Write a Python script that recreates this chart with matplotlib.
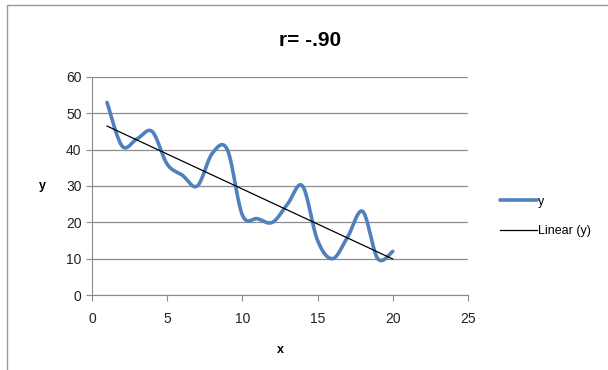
import numpy as np
import matplotlib.pyplot as plt
from matplotlib.patches import Rectangle

# данные
x_vals = [1, 2, 3, 4, 5, 6, 7, 8, 9, 10, 11, 12, 13, 14, 15, 16, 17, 18, 19, 20]
y_vals = [53, 41, 43, 45, 36, 33, 30, 39, 40, 22, 21, 20, 25, 30, 15, 10, 16, 23, 10, 12]
x_ticks = [0, 5, 10, 15, 20, 25]
y_ticks = [0, 10, 20, 30, 40, 50, 60]
title_text = "r= -.90"

blue = "#4F81BD"
grid_col = "#8C8C8C"


# сглаживание как в Excel (Catmull-Rom)
def smooth_line(xs, ys, steps=20):
    xs = np.asarray(xs, float)
    ys = np.asarray(ys, float)
    px = np.concatenate([[xs[0]], xs, [xs[-1]]])
    py = np.concatenate([[ys[0]], ys, [ys[-1]]])
    out_x, out_y = [], []
    t = np.linspace(0, 1, steps, endpoint=False)
    for i in range(1, len(px) - 2):
        for arr, out in ((px, out_x), (py, out_y)):
            p0, p1, p2, p3 = arr[i - 1], arr[i], arr[i + 1], arr[i + 2]
            c1 = p1 + (p2 - p0) / 6
            c2 = p2 - (p3 - p1) / 6
            out.extend((1 - t) ** 3 * p1 + 3 * (1 - t) ** 2 * t * c1
                       + 3 * (1 - t) * t ** 2 * c2 + t ** 3 * p2)
    out_x.append(xs[-1])
    out_y.append(ys[-1])
    return out_x, out_y


plt.rcParams['font.family'] = ['Liberation Sans', 'DejaVu Sans']

fig = plt.figure(figsize=(6.08, 3.70), dpi=100)
ax = fig.add_axes([0.1513, 0.2027, 0.6184, 0.5892])

sx, sy = smooth_line(x_vals, y_vals)
ax.plot(sx, sy, color=blue, lw=2.6, solid_capstyle='round', label='y', zorder=3)

k, b = np.polyfit(x_vals, y_vals, 1)
xt = np.array([x_vals[0], x_vals[-1]])
ax.plot(xt, k * xt + b, color='black', lw=0.9, label='Linear (y)', zorder=4)

ax.set_xlim(0, 25)
ax.set_ylim(0, 60)
ax.set_xticks(x_ticks)
ax.set_yticks(y_ticks)
ax.yaxis.grid(True, color=grid_col, lw=0.9)
ax.set_axisbelow(True)
for s in ['top', 'right']:
    ax.spines[s].set_visible(False)
for s in ['left', 'bottom']:
    ax.spines[s].set_color(grid_col)
ax.tick_params(axis='both', colors=grid_col, length=4, labelsize=10, labelcolor='#222222')
ax.tick_params(axis='x', pad=8)

ax.set_xlabel('x', fontsize=9, fontweight='bold', labelpad=13)
ax.set_ylabel('y', fontsize=9, fontweight='bold', rotation=0, labelpad=17, va='center')
fig.text(0.51, 0.89, title_text, fontsize=15, fontweight='bold', ha='center', va='center')

ax.legend(loc='center left', bbox_to_anchor=(1.055, 0.36), frameon=False, fontsize=9,
          handlelength=3.0, handletextpad=0.05, labelspacing=1.4)

fig.add_artist(Rectangle((0.012, -0.1), 1.2, 1.087, transform=fig.transFigure,
                         fill=False, edgecolor='#999999', lw=1))

fig.savefig('out.png', dpi=100)
